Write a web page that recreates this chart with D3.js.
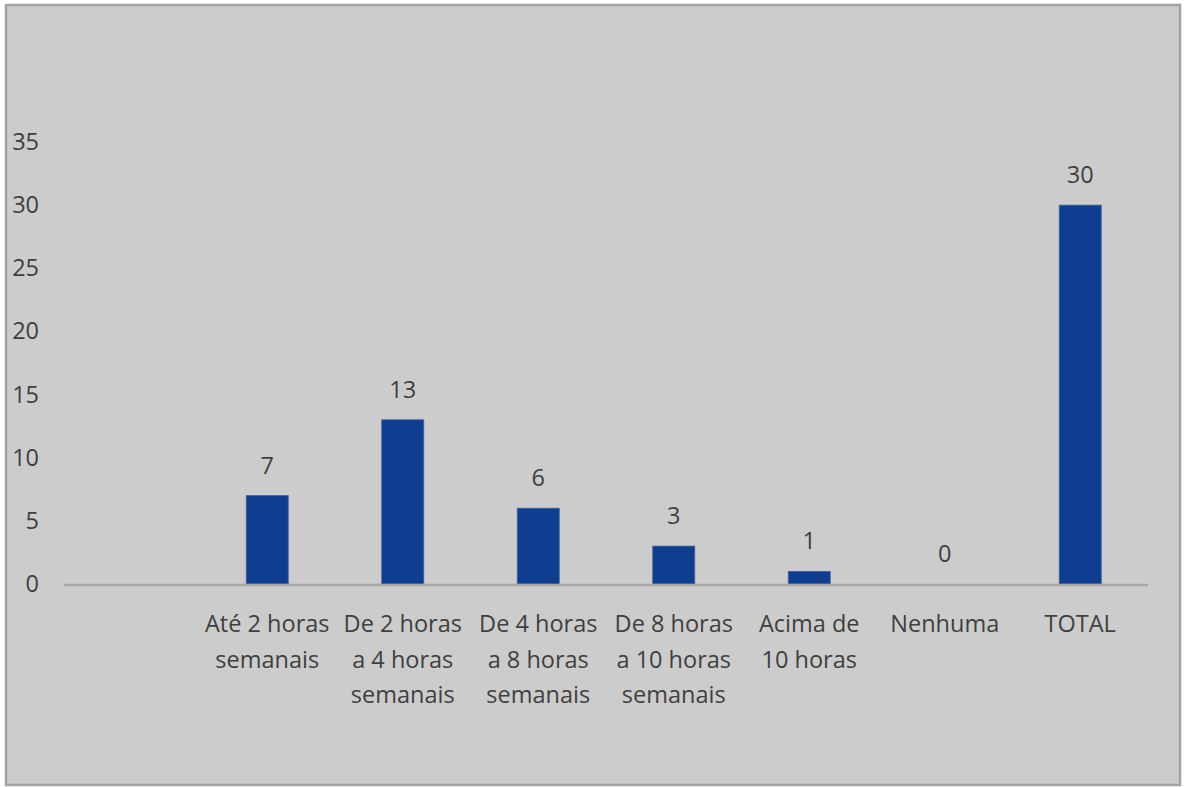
<!DOCTYPE html>
<html>
<head>
<meta charset="utf-8">
<script src="https://cdn.jsdelivr.net/npm/d3@7"></script>
<style>
  html, body { margin: 0; padding: 0; background: #ffffff; }
  svg { display: block; }
  text { font-family: "Open Sans", "Noto Sans", sans-serif; fill: #404040; }
</style>
</head>
<body>
<svg id="chart" width="1186" height="787"></svg>
<script>
// Weekly hours categories (first slot is intentionally blank)
const categories = [
  "",
  "Até 2 horas semanais",
  "De 2 horas a 4 horas semanais",
  "De 4 horas a 8 horas semanais",
  "De 8 horas a 10 horas semanais",
  "Acima de 10 horas",
  "Nenhuma",
  "TOTAL"
];
// How each category label wraps onto lines
const labelLines = [
  [],
  ["Até 2 horas", "semanais"],
  ["De 2 horas", "a 4 horas", "semanais"],
  ["De 4 horas", "a 8 horas", "semanais"],
  ["De 8 horas", "a 10 horas", "semanais"],
  ["Acima de", "10 horas"],
  ["Nenhuma"],
  ["TOTAL"]
];
const values = [null, 7, 13, 6, 3, 1, 0, 30];
const yTicks = [0, 5, 10, 15, 20, 25, 30, 35];

const FONT = 23.5;
const svg = d3.select("#chart");
const W = 1186, H = 787;

// Chart area background and frame
svg.append("rect")
  .attr("x", 6).attr("y", 5)
  .attr("width", W - 12).attr("height", H - 7)
  .attr("fill", "#cccccc")
  .attr("stroke", "#a3a3a3")
  .attr("stroke-width", 2.5);

const plot = { left: 64, right: 1148, top: 142, bottom: 584 };

const x = d3.scaleBand()
  .domain(d3.range(categories.length))
  .range([plot.left, plot.right])
  .paddingInner(0.69)
  .paddingOuter(0.345);

const y = d3.scaleLinear()
  .domain([0, 35])
  .range([plot.bottom, plot.top]);

// Y axis: labels only, no line or ticks
const yAxis = svg.append("g")
  .attr("transform", `translate(${plot.left - 25},0)`)
  .call(d3.axisLeft(y).tickValues(yTicks).tickSize(0).tickPadding(0));
yAxis.select(".domain").remove();
yAxis.selectAll("text")
  .attr("font-size", FONT)
  .attr("fill", "#404040")
  .attr("font-family", "\"Open Sans\", sans-serif");

// Bars
const data = categories.map((c, i) => ({ i, c, v: values[i] }));
svg.append("g").selectAll("rect")
  .data(data.filter(d => d.v !== null))
  .join("rect")
  .attr("x", d => x(d.i))
  .attr("width", x.bandwidth())
  .attr("y", d => y(d.v))
  .attr("height", d => y(0) - y(d.v))
  .attr("fill", "#0f3d8f")
  .attr("stroke", d => d.v > 0 ? "#3d5f9f" : "none")
  .attr("stroke-width", 0.8);

// Category baseline
svg.append("line")
  .attr("x1", plot.left).attr("x2", plot.right)
  .attr("y1", y(0) + 1).attr("y2", y(0) + 1)
  .attr("stroke", "#a6a6a6")
  .attr("stroke-width", 2.5);

// Value labels above bars
svg.append("g").selectAll("text")
  .data(data.filter(d => d.v !== null))
  .join("text")
  .attr("x", d => x(d.i) + x.bandwidth() / 2)
  .attr("y", d => y(d.v) - 22)
  .attr("text-anchor", "middle")
  .attr("font-size", FONT)
  .text(d => d.v);

// Category labels, wrapped
const catG = svg.append("g").selectAll("text")
  .data(data)
  .join("text")
  .attr("text-anchor", "middle")
  .attr("font-size", FONT)
  .attr("x", d => x(d.i) + x.bandwidth() / 2)
  .attr("y", 632);
catG.selectAll("tspan")
  .data(d => labelLines[d.i].map(t => ({ t, cx: x(d.i) + x.bandwidth() / 2 })))
  .join("tspan")
  .attr("x", d => d.cx)
  .attr("dy", (d, k) => k === 0 ? 0 : 35.5)
  .text(d => d.t);
</script>
</body>
</html>
